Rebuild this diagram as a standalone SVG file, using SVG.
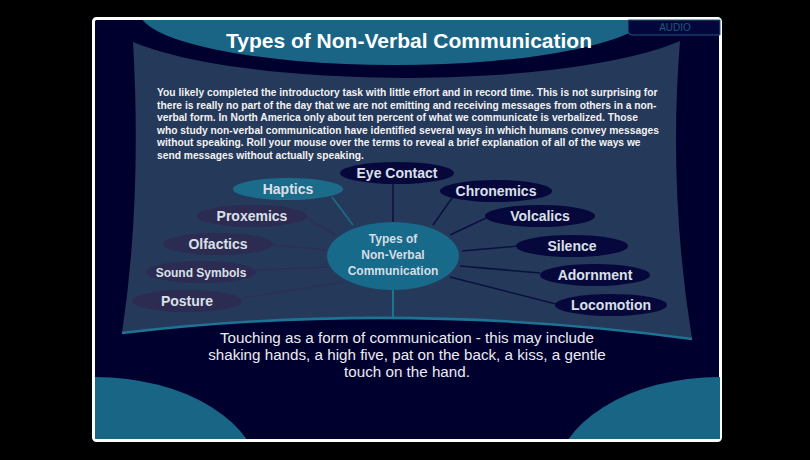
<svg xmlns="http://www.w3.org/2000/svg" width="810" height="460" viewBox="0 0 810 460">
<defs>
<clipPath id="inner"><rect x="95" y="20" width="625" height="419"/></clipPath>
<style>
.node-l{fill:#2c2b52}
.node-r{fill:#06083c}
.node-t{fill:#1b6b8b}
.lbl{font-family:"Liberation Sans",Arial,sans-serif;font-weight:bold;font-size:14px;fill:#dbe0e8;text-anchor:middle}
.para{font-family:"Liberation Sans",Arial,sans-serif;font-weight:bold;font-size:10.25px;fill:#f2f2f2}
.desc{font-family:"Liberation Sans",Arial,sans-serif;font-size:15.2px;fill:#ececf2;text-anchor:middle}
.cl{stroke:#2f2e56;stroke-width:1.5;fill:none}
.cr{stroke:#0b1040;stroke-width:1.5;fill:none}
.ct{stroke:#1d6d8c;stroke-width:1.5;fill:none}
</style>
</defs>
<rect width="810" height="460" fill="#000000"/>
<rect x="93.5" y="18.5" width="627" height="422" rx="3" fill="#00002f" stroke="#ffffff" stroke-width="3"/>
<g clip-path="url(#inner)">
<ellipse cx="395" cy="11" rx="256" ry="54" fill="#1a6585"/>
<ellipse cx="95" cy="480" rx="165" ry="103" fill="#186585"/>
<ellipse cx="720" cy="480" rx="165" ry="103" fill="#186585"/>
</g>
<g id="audio">
<path d="M628,20 V31 Q628,35 632,35 H720 V20 Z" fill="#03063a" stroke="#1a5a7a" stroke-width="1"/>
<text x="675" y="31" font-family="Liberation Sans,Arial,sans-serif" font-size="10" fill="#1d5c7e" text-anchor="middle">AUDIO</text>
</g>
<path id="panel" d="M133,42 A306,66 0 0 0 680,41 Q668,190 692,339 Q400,300 122,333 Q142,200 133,42 Z" fill="#25395b"/>
<path d="M692,339 Q400,300 122,333" fill="none" stroke="#1d7394" stroke-width="2.5"/>
<text x="409" y="48" font-family="Liberation Sans,Arial,sans-serif" font-weight="bold" font-size="21" fill="#ffffff" text-anchor="middle">Types of Non-Verbal Communication</text>
<g id="intro">
<text class="para" x="157" y="96">You likely completed the introductory task with little effort and in record time. This is not surprising for</text>
<text class="para" x="157" y="108.6">there is really no part of the day that we are not emitting and receiving messages from others in a non-</text>
<text class="para" x="157" y="121.2">verbal form. In North America only about ten percent of what we communicate is verbalized. Those</text>
<text class="para" x="157" y="133.8">who study non-verbal communication have identified several ways in which humans convey messages</text>
<text class="para" x="157" y="146.4">without speaking. Roll your mouse over the terms to reveal a brief explanation of all of the ways we</text>
<text class="para" x="157" y="159">send messages without actually speaking.</text>
</g>
<g id="connectors">
<line class="ct" x1="332" y1="197" x2="353" y2="225"/>
<line class="cr" x1="393" y1="184" x2="393" y2="222"/>
<line class="cl" x1="307" y1="218" x2="335" y2="235"/>
<line class="cl" x1="273" y1="245" x2="327" y2="250"/>
<line class="cl" x1="256" y1="270" x2="328" y2="267"/>
<line class="cl" x1="243" y1="298" x2="343" y2="282"/>
<line class="cr" x1="452" y1="198" x2="433" y2="225"/>
<line class="cr" x1="486" y1="218" x2="450" y2="235"/>
<line class="cr" x1="518" y1="246" x2="462" y2="251"/>
<line class="cr" x1="540" y1="273" x2="460" y2="266"/>
<line class="cr" x1="556" y1="304" x2="450" y2="277"/>
<line stroke="#1d7394" stroke-width="2" x1="393" y1="289" x2="393" y2="318"/>
</g>
<g id="center">
<ellipse cx="393" cy="256" rx="66" ry="34" fill="#176a8a"/>
<text x="393" y="243" font-family="Liberation Sans,Arial,sans-serif" font-weight="bold" font-size="12" fill="#d6dde6" text-anchor="middle">Types of</text>
<text x="393" y="259" font-family="Liberation Sans,Arial,sans-serif" font-weight="bold" font-size="12" fill="#d6dde6" text-anchor="middle">Non-Verbal</text>
<text x="393" y="275" font-family="Liberation Sans,Arial,sans-serif" font-weight="bold" font-size="12" fill="#d6dde6" text-anchor="middle">Communication</text>
</g>
<g id="haptics"><ellipse class="node-t" cx="288" cy="189" rx="55" ry="11"/><text class="lbl" x="288" y="194">Haptics</text></g>
<g id="eye-contact"><ellipse class="node-r" cx="397" cy="173" rx="57" ry="11"/><text class="lbl" x="397" y="178">Eye Contact</text></g>
<g id="chronemics"><ellipse class="node-r" cx="496" cy="191" rx="56" ry="11"/><text class="lbl" x="496" y="196">Chronemics</text></g>
<g id="volcalics"><ellipse class="node-r" cx="540" cy="216" rx="55" ry="11"/><text class="lbl" x="540" y="221">Volcalics</text></g>
<g id="silence"><ellipse class="node-r" cx="572" cy="246" rx="56" ry="11"/><text class="lbl" x="572" y="251">Silence</text></g>
<g id="adornment"><ellipse class="node-r" cx="595" cy="275" rx="55" ry="11"/><text class="lbl" x="595" y="280">Adornment</text></g>
<g id="locomotion"><ellipse class="node-r" cx="611" cy="305" rx="56" ry="11"/><text class="lbl" x="611" y="310">Locomotion</text></g>
<g id="proxemics"><ellipse class="node-l" cx="252" cy="216" rx="55" ry="11"/><text class="lbl" x="252" y="221">Proxemics</text></g>
<g id="olfactics"><ellipse class="node-l" cx="218" cy="244" rx="55" ry="11"/><text class="lbl" x="218" y="249">Olfactics</text></g>
<g id="sound-symbols"><ellipse class="node-l" cx="201" cy="272" rx="55" ry="11"/><text class="lbl" x="201" y="276.5" style="font-size:12px">Sound Symbols</text></g>
<g id="posture"><ellipse class="node-l" cx="187" cy="301" rx="55" ry="11"/><text class="lbl" x="187" y="306">Posture</text></g>
<g id="description">
<text class="desc" x="407" y="343">Touching as a form of communication - this may include</text>
<text class="desc" x="407" y="360">shaking hands, a high five, pat on the back, a kiss, a gentle</text>
<text class="desc" x="407" y="377">touch on the hand.</text>
</g>
</svg>
